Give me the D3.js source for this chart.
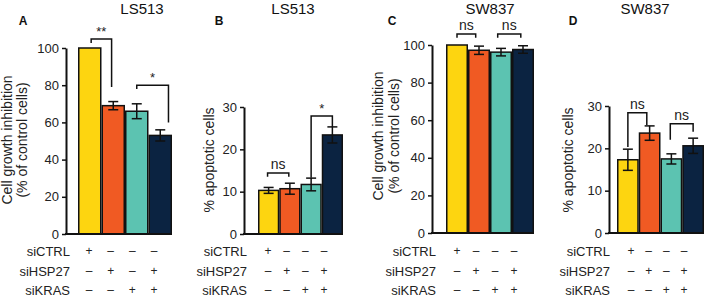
<!DOCTYPE html>
<html><head><meta charset="utf-8">
<script src="https://cdn.jsdelivr.net/npm/d3@7"></script>
<style>
body{margin:0;background:#fff;}
svg{display:block;font-family:"Liberation Sans",Arial,sans-serif;}
</style></head>
<body>
<svg id="chart" width="709" height="297"></svg>
<script>
// ---- data ----
const conditions = ["siCTRL","siHSP27","siKRAS"];
const conditionSigns = [
  ["+","–","–","–"],
  ["–","+","–","+"],
  ["–","–","+","+"]
];
const barColors = ["#FDD510","#F05A23","#5CC3B1","#0B2341"];

const panelLetters = ["A","B","C","D"];
const panelTitles = ["LS513","LS513","SW837","SW837"];
const yLabelsGrowth = ["Cell growth inhibition","(% of control cells)"];
const yLabelsApop = ["% apoptotic cells"];

const growthTicks = [0,20,40,60,80,100];
const apopTicks = [0,10,20,30];

const valuesA = [100, 69, 66, 53];
const errorsA = [0, 2.2, 4, 3];
const valuesB = [10.3, 10.7, 11.7, 23.4];
const errorsB = [0.7, 1.3, 1.5, 1.9];
const valuesC = [100, 97.2, 96.2, 97.6];
const errorsC = [0, 2.2, 2.0, 2.0];
const valuesD = [17.3, 23.6, 17.5, 20.6];
const errorsD = [2.5, 1.7, 1.2, 1.8];

// brackets: [fromBar, fromFrac, toBar, toFrac, topValue, leftLegValue, rightLegValue, label]
const bracketsA = [[0,0.56,1,0.43,104.8,102.7,79,"**"],[2,0.5,3,0.85,80,78,60,"*"]];
const bracketsB = [[0,0.45,1,0.45,14.4,13.5,13.5,"ns"],[2,0.5,3,0.5,27.9,13.3,25.3,"*"]];
const bracketsC = [[0,0.5,1,0.35,105.9,103.8,103.8,"ns"],[2,0.35,3,0.4,105.9,103.8,103.8,"ns"]];
const bracketsD = [[0,0.5,1,0.37,28.4,20.3,25.5,"ns"],[2,0.45,3,0.5,25.8,22,23.9,"ns"]];

// ---- layout ----
const panels = [
  {values:valuesA, errors:errorsA, brackets:bracketsA, ticks:growthTicks, max:100, ylab:yLabelsGrowth,
   axisX:66, y0:234, yTop:48, bars:[78,172], sym:[89,154], rowLabX:70, letterX:23, titleX:142, ylabX:[7,22], ylabY:140},
  {values:valuesB, errors:errorsB, brackets:bracketsB, ticks:apopTicks, max:30, ylab:yLabelsApop,
   axisX:244, y0:234, yTop:107, bars:[258,343], sym:[268,324], rowLabX:247, letterX:219, titleX:293, ylabX:[209], ylabY:160},
  {values:valuesC, errors:errorsC, brackets:bracketsC, ticks:growthTicks, max:100, ylab:yLabelsGrowth,
   axisX:432, y0:233, yTop:45, bars:[446,534], sym:[457,514], rowLabX:436, letterX:392, titleX:490, ylabX:[378,394], ylabY:136},
  {values:valuesD, errors:errorsD, brackets:bracketsD, ticks:apopTicks, max:30, ylab:yLabelsApop,
   axisX:609, y0:233, yTop:106, bars:[617,704], sym:[631,684], rowLabX:610, letterX:573, titleX:645, ylabX:[568], ylabY:160}
];
const rowYs = [256, 276, 295];

const svg = d3.select("#chart");

panels.forEach((p, pi) => {
  const g = svg.append("g");
  const y = d3.scaleLinear().domain([0, p.max]).range([p.y0, p.yTop]);
  const x = d3.scaleBand().domain(d3.range(4)).range(p.bars).padding(0);
  const xs = d3.scalePoint().domain(d3.range(4)).range(p.sym);

  // title & letter
  g.append("text").attr("x", p.titleX).attr("y", 14).attr("text-anchor","middle")
    .attr("font-size", 15).attr("fill","#111").text(panelTitles[pi]);
  g.append("text").attr("x", p.letterX).attr("y", 25).attr("text-anchor","middle")
    .attr("font-size", 12).attr("font-weight","bold").attr("fill","#111").text(panelLetters[pi]);

  // y label
  p.ylab.forEach((t, i) => {
    g.append("text").attr("transform", `translate(${p.ylabX[i] + 5},${p.ylabY}) rotate(-90)`)
      .attr("text-anchor","middle").attr("font-size", 14).attr("fill","#222").text(t);
  });

  // bars
  g.selectAll("rect.bar").data(p.values).join("rect")
    .attr("x", (d,i) => x(i) + 0.75)
    .attr("width", x.bandwidth() - 1.5)
    .attr("y", d => y(d))
    .attr("height", d => y(0) - y(d))
    .attr("fill", (d,i) => barColors[i])
    .attr("stroke", "#111").attr("stroke-width", 1.5);

  // error bars
  p.values.forEach((v, i) => {
    const e = p.errors[i];
    if (!e) return;
    const cx = x(i) + x.bandwidth()/2;
    const eg = g.append("g").attr("stroke","#111").attr("stroke-width",1.5);
    eg.append("line").attr("x1",cx).attr("x2",cx).attr("y1",y(v-e)).attr("y2",y(v+e));
    eg.append("line").attr("x1",cx-5).attr("x2",cx+5).attr("y1",y(v-e)).attr("y2",y(v-e));
    eg.append("line").attr("x1",cx-5).attr("x2",cx+5).attr("y1",y(v+e)).attr("y2",y(v+e));
  });

  // axes
  const ax = g.append("g").attr("transform", `translate(${p.axisX},0)`)
    .call(d3.axisLeft(y).tickValues(p.ticks).tickSize(4).tickSizeOuter(0).tickPadding(3));
  ax.select(".domain").attr("stroke","#111").attr("stroke-width",2);
  ax.selectAll(".tick line").attr("stroke","#111").attr("stroke-width",1.5);
  ax.selectAll(".tick text").attr("font-size",13).attr("fill","#222")
    .attr("font-family",'"Liberation Sans",Arial,sans-serif');
  g.append("line").attr("x1", p.axisX - 1).attr("x2", p.bars[1])
    .attr("y1", y(0)).attr("y2", y(0)).attr("stroke","#111").attr("stroke-width",2);

  // brackets
  p.brackets.forEach(b => {
    const [i1,f1,i2,f2,top,l1,l2,lab] = b;
    const xa = x(i1) + x.bandwidth()*f1, xb = x(i2) + x.bandwidth()*f2;
    g.append("path").attr("d", `M${xa},${y(l1)}V${y(top)}H${xb}V${y(l2)}`)
      .attr("fill","none").attr("stroke","#111").attr("stroke-width",1.5);
    const isStar = lab.indexOf("*") >= 0;
    g.append("text").attr("x", (xa+xb)/2).attr("y", y(top) - (isStar ? 3 : 4))
      .attr("text-anchor","middle").attr("font-size", isStar ? 13 : 14).attr("fill","#222").text(lab);
  });

  // condition table
  conditions.forEach((c, r) => {
    g.append("text").attr("x", p.rowLabX).attr("y", rowYs[r]).attr("text-anchor","end")
      .attr("font-size", 13).attr("fill","#222").text(c);
    conditionSigns[r].forEach((s, k) => {
      g.append("text").attr("x", xs(k)).attr("y", rowYs[r] - 1)
        .attr("text-anchor","middle").attr("font-size", 12).attr("fill","#222").text(s);
    });
  });
});
</script>
</body></html>
